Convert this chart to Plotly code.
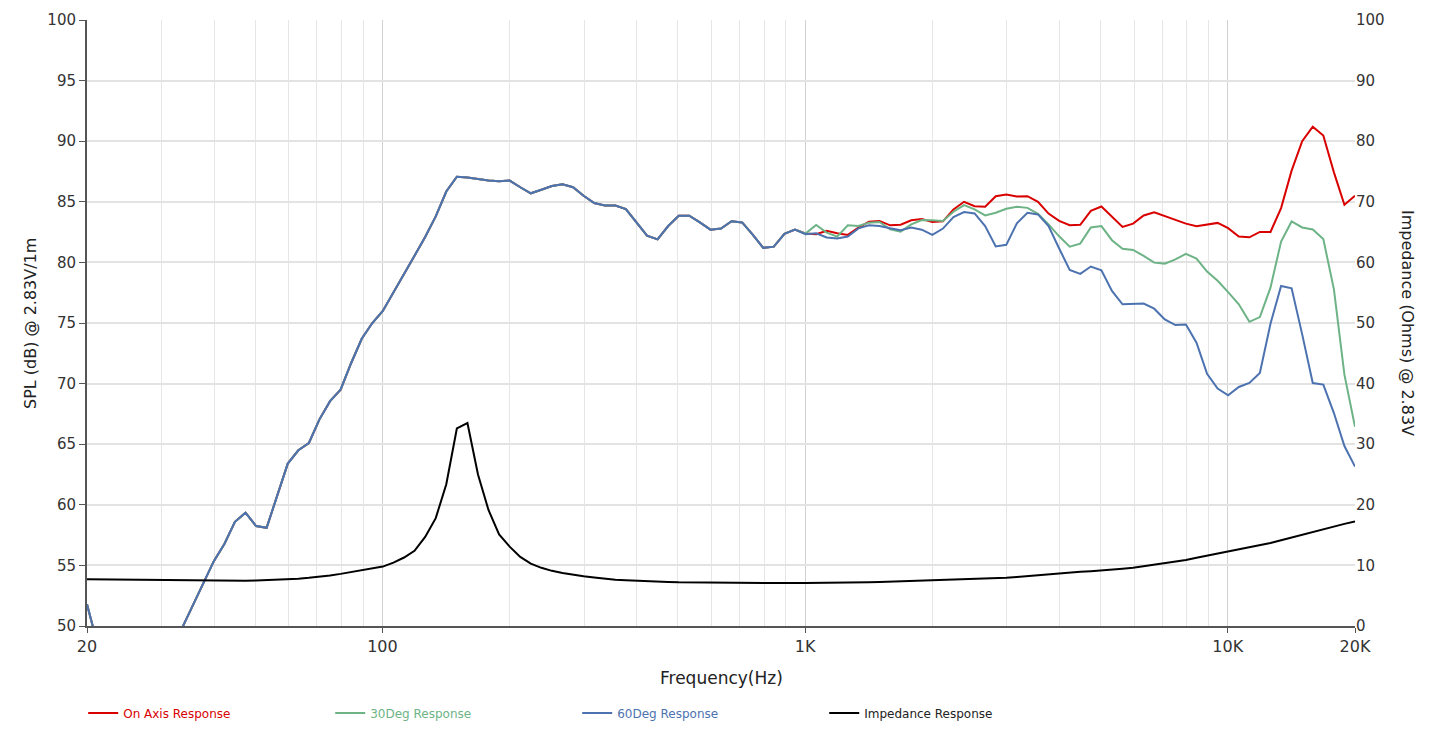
import plotly.graph_objects as go

# Frequency grid (Hz), 121 log-spaced points from 20 Hz to 20 kHz
freq = [20, 21.19, 22.44, 23.77, 25.18, 26.67, 28.25, 29.92, 31.70, 33.58,
        35.57, 37.67, 39.91, 42.27, 44.77, 47.43, 50.24, 53.21, 56.37, 59.71,
        63.25, 66.99, 70.96, 75.17, 79.62, 84.34, 89.34, 94.63, 100.2, 106.2,
        112.5, 119.1, 126.2, 133.7, 141.6, 150.0, 158.9, 168.3, 178.3, 188.8,
        200, 211.9, 224.4, 237.7, 251.8, 266.7, 282.5, 299.2, 317.0, 335.8,
        355.7, 376.7, 399.1, 422.7, 447.7, 474.3, 502.4, 532.1, 563.7, 597.1,
        632.5, 669.9, 709.6, 751.7, 796.2, 843.4, 893.4, 946.3, 1002, 1062,
        1125, 1191, 1262, 1337, 1416, 1500, 1589, 1683, 1783, 1888,
        2000, 2119, 2244, 2377, 2518, 2667, 2825, 2992, 3170, 3358,
        3557, 3767, 3991, 4227, 4477, 4743, 5024, 5321, 5637, 5971,
        6325, 6699, 7096, 7517, 7962, 8434, 8934, 9463, 10020, 10620,
        11250, 11910, 12620, 13370, 14160, 15000, 15890, 16830, 17830, 18880,
        20000]

# SPL (dB) shared by all three responses below ~1 kHz
spl_common = [51.8, 48.45, 46.5, 45.5, 45.0, 45.0, 45.5, 46.5, 48.0, 49.84,
              51.73, 53.6, 55.35, 56.77, 58.6, 59.35, 58.25, 58.1, 60.8, 63.4,
              64.5, 65.1, 67.05, 68.55, 69.5, 71.7, 73.7, 75.0, 76.0, 77.5,
              79.0, 80.55, 82.1, 83.8, 85.85, 87.07, 87.0, 86.85, 86.75, 86.7,
              86.75, 86.2, 85.7, 86.0, 86.3, 86.45, 86.2, 85.5, 84.9, 84.7,
              84.7, 84.4, 83.3, 82.2, 81.9, 83.0, 83.85, 83.85, 83.3, 82.7,
              82.8, 83.4, 83.3, 82.3, 81.2, 81.3, 82.35, 82.7]

on_axis_hf = [82.38, 82.32, 82.6, 82.4, 82.27, 82.87, 83.36, 83.42, 83.06, 83.11,
              83.47, 83.58, 83.33, 83.39, 84.37, 85.0, 84.64, 84.59, 85.46, 85.6,
              85.44, 85.46, 85.0, 84.03, 83.43, 83.07, 83.1, 84.25, 84.61, 83.76,
              82.93, 83.2, 83.87, 84.14, 83.84, 83.48, 83.2, 82.98, 83.09, 83.26,
              82.82, 82.13, 82.07, 82.51, 82.51, 84.48, 87.57, 90.0, 91.2, 90.47,
              87.43, 84.75, 85.5]

deg30_hf = [82.38, 83.09, 82.46, 82.13, 83.06, 83.0, 83.28, 83.33, 82.73, 82.54,
            83.14, 83.5, 83.47, 83.42, 84.18, 84.73, 84.37, 83.88, 84.1, 84.43,
            84.59, 84.5, 84.0, 83.14, 82.15, 81.3, 81.55, 82.88, 83.0, 81.83,
            81.12, 81.03, 80.53, 79.98, 79.9, 80.25, 80.7, 80.31, 79.24, 78.48,
            77.55, 76.54, 75.1, 75.49, 77.92, 81.72, 83.38, 82.88, 82.72, 81.92,
            77.78, 70.74, 66.44]

deg60_hf = [82.32, 82.4, 82.05, 81.97, 82.13, 82.81, 83.06, 83.0, 82.81, 82.65,
            82.87, 82.7, 82.27, 82.79, 83.74, 84.15, 84.04, 83.0, 81.31, 81.45,
            83.22, 84.1, 83.96, 83.0, 81.15, 79.38, 79.05, 79.66, 79.35, 77.65,
            76.54, 76.54, 76.6, 76.18, 75.3, 74.83, 74.88, 73.37, 70.8, 69.59,
            69.03, 69.72, 70.05, 70.88, 74.94, 78.06, 77.86, 74.06, 70.05, 69.92,
            67.57, 64.85, 63.15]

on_axis = spl_common + on_axis_hf
deg30 = spl_common + deg30_hf
deg60 = spl_common + deg60_hf

# Impedance (Ohms)
impedance = [7.7, 7.68, 7.66, 7.63, 7.6, 7.58, 7.56, 7.54, 7.5, 7.48,
             7.45, 7.43, 7.43, 7.43, 7.45, 7.47, 7.5, 7.55, 7.62, 7.7,
             7.8, 7.95, 8.12, 8.35, 8.6, 8.9, 9.2, 9.5, 9.8, 10.45,
             11.3, 12.4, 14.7, 17.8, 23.4, 32.6, 33.5, 25.0, 19.1, 15.1,
             13.1, 11.4, 10.3, 9.6, 9.1, 8.75, 8.45, 8.2, 8.0, 7.8,
             7.65, 7.55, 7.45, 7.35, 7.3, 7.25, 7.2, 7.18, 7.15, 7.15,
             7.13, 7.12, 7.1, 7.1, 7.08, 7.08, 7.08, 7.08, 7.1, 7.1,
             7.12, 7.15, 7.18, 7.2, 7.22, 7.25, 7.3, 7.35, 7.4, 7.45,
             7.5, 7.55, 7.62, 7.68, 7.75, 7.8, 7.85, 7.95, 8.1, 8.25,
             8.4, 8.55, 8.75, 8.85, 8.95, 9.05, 9.15, 9.3, 9.45, 9.6,
             9.85, 10.05, 10.3, 10.6, 10.9, 11.25, 11.6, 11.9, 12.2, 12.55,
             12.9, 13.3, 13.7, 14.15, 14.6, 15.1, 15.6, 16.05, 16.45, 16.85,
             17.25]

x_major = [20, 100, 1000, 10000, 20000]
x_major_text = ["20", "100", "1K", "10K", "20K"]
x_minor = [30, 40, 50, 60, 70, 80, 90, 200, 300, 400, 500, 600, 700, 800, 900,
           2000, 3000, 4000, 5000, 6000, 7000, 8000, 9000]

series_names = ["On Axis Response", "30Deg Response", "60Deg Response", "Impedance Response"]
colors = ["#d90000", "#6db386", "#4c72b0", "#000000"]

FONT = "DejaVu Sans"
fig = go.Figure()
for vals, name, col in zip([on_axis, deg30, deg60], series_names[:3], colors[:3]):
    fig.add_trace(go.Scatter(x=freq, y=vals, mode="lines",
                             name=f"<span style='color:{col}'>{name}</span>",
                             line=dict(color=col, width=2)))
fig.add_trace(go.Scatter(x=freq, y=impedance, mode="lines", yaxis="y2",
                         name=f"<span style='color:#222222'>{series_names[3]}</span>",
                         line=dict(color=colors[3], width=2)))

# The page body has an 8px margin, so the figure is sized to fit the window.
fig.update_layout(
    width=1424, height=724,
    margin=dict(l=79, r=77, t=12, b=106, autoexpand=False),
    paper_bgcolor="white", plot_bgcolor="white",
    font=dict(family=FONT, size=15, color="#333333"),
    showlegend=True,
    legend=dict(orientation="h", x=-0.003, xanchor="left", y=-0.1436, yanchor="middle",
                entrywidth=202, entrywidthmode="pixels",
                font=dict(family=FONT, size=12, color="#222222"),
                bgcolor="rgba(0,0,0,0)"),
    xaxis=dict(type="log", range=[1.30103, 4.30103], automargin=False,
               tickvals=x_major, ticktext=x_major_text,
               ticks="outside", ticklen=5, tickcolor="#555555",
               tickfont=dict(family=FONT, size=16, color="#333333"),
               showgrid=True, gridcolor="#d2d2d2", gridwidth=1,
               minor=dict(tickvals=x_minor, showgrid=True, gridcolor="#e6e6e6", gridwidth=1, ticks=""),
               showline=True, linecolor="#555555", linewidth=2,
               zeroline=False, mirror=False),
    yaxis=dict(range=[50, 100], dtick=5, tick0=50, automargin=False,
               ticks="outside", ticklen=6, tickcolor="#555555",
               tickfont=dict(family=FONT, size=15, color="#333333"),
               showgrid=True, gridcolor="#e3e3e3", gridwidth=2,
               showline=True, linecolor="#555555", linewidth=2,
               zeroline=False),
    yaxis2=dict(range=[0, 100], dtick=10, tick0=0, overlaying="y", side="right",
                automargin=False,
                ticks="", showgrid=False, showline=False, zeroline=False,
                tickfont=dict(family=FONT, size=15, color="#333333")),
    annotations=[
        dict(text="SPL (dB) @ 2.83V/1m", xref="paper", yref="paper", x=-0.045, y=0.5,
             textangle=-90, showarrow=False, xanchor="center", yanchor="middle",
             font=dict(family=FONT, size=16, color="#222222")),
        dict(text="Impedance (Ohms) @ 2.83V", xref="paper", yref="paper", x=1.0418, y=0.5,
             textangle=90, showarrow=False, xanchor="center", yanchor="middle",
             font=dict(family=FONT, size=16, color="#222222")),
        dict(text="Frequency(Hz)", xref="paper", yref="paper", x=0.5, y=-0.0858,
             showarrow=False, xanchor="center", yanchor="middle",
             font=dict(family=FONT, size=17, color="#222222")),
    ],
)

fig.write_html("out.html")
